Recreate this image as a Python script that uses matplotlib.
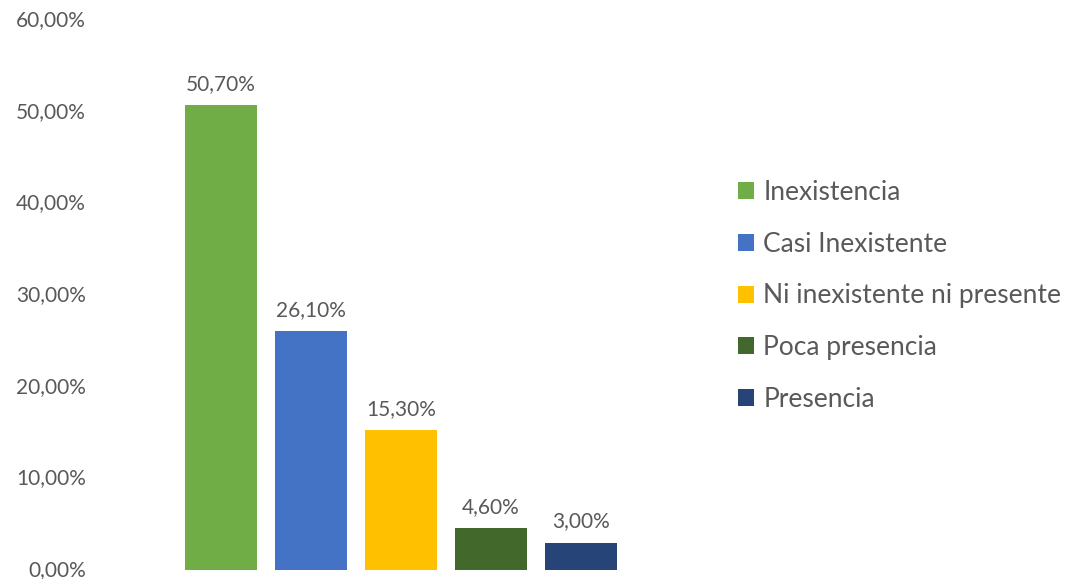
import matplotlib.pyplot as plt
from matplotlib.patches import Patch
from matplotlib.ticker import FuncFormatter

# categories and shares (%)
categories = ["Inexistencia", "Casi Inexistente", "Ni inexistente ni presente",
              "Poca presencia", "Presencia"]
values = [50.7, 26.1, 15.3, 4.6, 3.0]
colors = ["#70AD47", "#4472C4", "#FFC000", "#43682B", "#264478"]
y_ticks = [0, 10, 20, 30, 40, 50, 60]

plt.rcParams['font.family'] = ['Lato', 'DejaVu Sans']
text_color = "#595959"


def pct(v):
    return f"{v:.2f}".replace(".", ",") + "%"


fig = plt.figure(figsize=(10.84, 5.79), dpi=100)
ax = fig.add_axes([176 / 1084, 9 / 579, 450 / 1084, 550 / 579])

x = range(len(values))
bars = ax.bar(x, values, width=0.8, color=colors)
for b, v in zip(bars, values):
    ax.annotate(pct(v), (b.get_x() + b.get_width() / 2, v),
                xytext=(0, 8), textcoords="offset points",
                ha="center", va="bottom", fontsize=15, color=text_color)

ax.set_xlim(-0.5, 4.5)
ax.set_ylim(0, 60)
ax.set_yticks(y_ticks)
ax.yaxis.set_major_formatter(FuncFormatter(lambda v, _: pct(v)))
ax.tick_params(axis="y", length=0, pad=65, labelsize=15, labelcolor=text_color)
plt.setp(ax.get_yticklabels(), va="center")
ax.set_xticks([])
for s in ax.spines.values():
    s.set_visible(False)

handles = [Patch(facecolor=c, edgecolor="none") for c in colors]
fig.legend(handles, categories, loc="center left",
           bbox_to_anchor=(714 / 1084, 1 - 296 / 579),
           frameon=False, fontsize=19, labelcolor=text_color,
           handlelength=0.62, handleheight=0.62, handletextpad=0.35,
           labelspacing=1.01)

fig.savefig("out.png", dpi=100)
